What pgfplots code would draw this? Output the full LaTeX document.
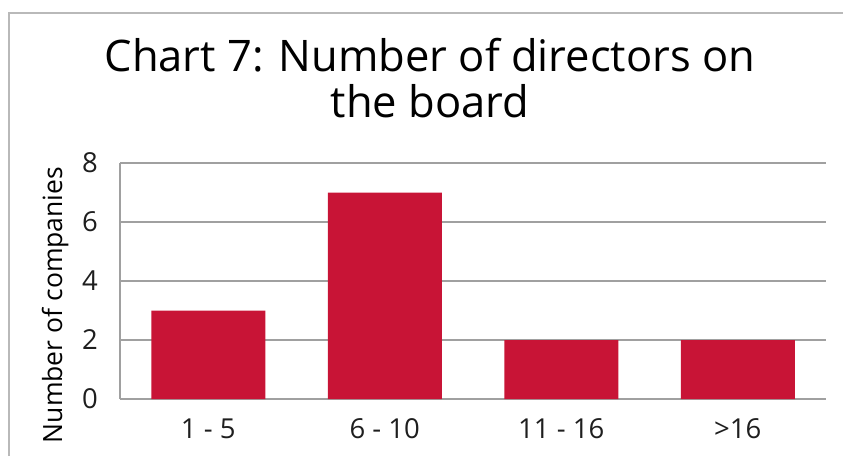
\documentclass[border=0pt]{standalone}
\usepackage{pgfplots}
\pgfplotsset{compat=1.18}
\usepackage{fontspec}
\setmainfont{Open Sans}
\definecolor{barred}{RGB}{200,20,54}
\definecolor{gridgray}{RGB}{160,160,160}
\definecolor{framegray}{RGB}{185,185,185}
\definecolor{ticktext}{RGB}{30,30,30}
\begin{document}
\begin{tikzpicture}[x=1pt,y=1pt]
\path[use as bounding box] (0,0) rectangle (843,456);
\draw[framegray, line width=1.5pt] (9,0) -- (9,443) -- (843,443);
\node[anchor=base, font=\fontsize{43.5}{50}\selectfont] at (430,384) {Chart 7: Number of directors on};
\node[anchor=base, font=\fontsize{43.5}{50}\selectfont] at (430,338) {the board};
\node[anchor=base, rotate=90, font=\fontsize{26.5}{30}\selectfont] at (62,151) {Number of companies};
\begin{axis}[
  at={(120pt,57pt)}, anchor=south west,
  scale only axis, width=706pt, height=236pt,
  xmin=-0.5, xmax=3.5, ymin=0, ymax=8,
  ytick={0,2,4,6,8},
  xtick={0,1,2,3},
  xticklabels={1 - 5, 6 - 10, 11 - 16, >16},
  axis x line*=bottom, axis y line*=left,
  axis line style={gridgray, line width=1.2pt, -},
  ymajorgrids, grid style={gridgray, line width=1.2pt},
  major tick length=0pt,
  ticklabel style={font=\fontsize{27.5}{32}\selectfont, text=ticktext},
  yticklabel style={anchor=east, inner sep=0pt, xshift=-22pt},
  xticklabel style={anchor=base, inner sep=0pt, yshift=-39pt},
  /pgf/number format/assume math mode=true,
  ybar, bar width=114pt, bar shift=0pt,
  clip=false,
]
\addplot[fill=barred, draw=none] coordinates {(0,3) (1,7) (2,2) (3,2)};
\end{axis}
\end{tikzpicture}
\end{document}
